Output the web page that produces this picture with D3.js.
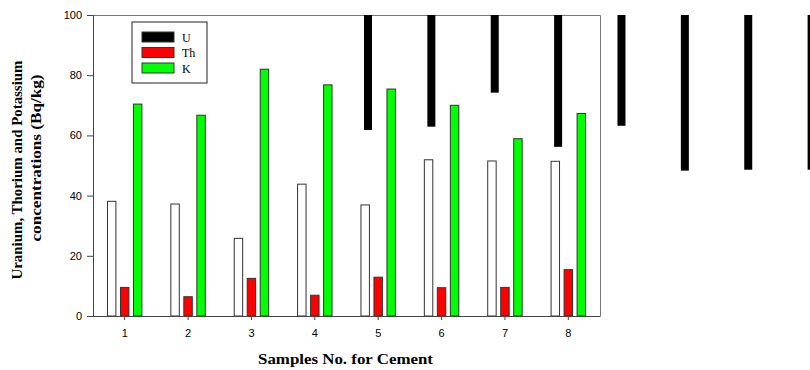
<!DOCTYPE html>
<html>
<head>
<meta charset="utf-8">
<script src="https://cdn.jsdelivr.net/npm/d3@7"></script>
<style>
  body { margin: 0; background: #fff; }
  svg { display: block; }
  .tick text { font-family: "Liberation Sans", Arial, sans-serif; font-size: 11px; fill: #000; }
  .title { font-family: "Liberation Serif", "Times New Roman", serif; font-weight: bold; font-size: 15px; }
  .legend text { font-family: "Liberation Serif", "Times New Roman", serif; font-size: 12px; }
</style>
</head>
<body>
<div id="chart"></div>
<script>
// samples and measured concentrations (Bq/kg)
const samples = [1, 2, 3, 4, 5, 6, 7, 8];
const uranium = [38.1, 37.2, 25.8, 43.8, 36.9, 51.9, 51.5, 51.4];
const thorium = [9.5, 6.4, 12.5, 6.9, 12.9, 9.4, 9.5, 15.4];
const potassium = [70.4, 66.7, 82.0, 76.8, 75.4, 70.0, 58.9, 67.3];
// stray black U bars hanging from the top of the plot (as in the source figure)
const uOverflow = [61.8, 62.9, 74.2, 56.2, 63.2, 48.3, 48.6, 48.6];
const yTicks = [0, 20, 40, 60, 80, 100];

const series = [
  { key: "U", label: "U", values: uranium, fill: "#ffffff", legendFill: "#000000" },
  { key: "Th", label: "Th", values: thorium, fill: "#ff0000", legendFill: "#ff0000" },
  { key: "K", label: "K", values: potassium, fill: "#00ff00", legendFill: "#00ff00" }
];

const width = 810, height = 370;
const margin = { top: 15, right: 210, bottom: 54, left: 93 };
const plotW = width - margin.left - margin.right;
const plotH = height - margin.top - margin.bottom;

const svg = d3.select("#chart").append("svg")
  .attr("width", width)
  .attr("height", height);

const x = d3.scaleBand().domain(samples).range([0, plotW]).padding(0);
const sub = d3.scaleBand().domain(series.map(s => s.key))
  .range([-19.5, 19.5]).paddingInner(0.35).paddingOuter(0.175);
const y = d3.scaleLinear().domain([0, 100]).range([plotH, 0]);
// linear position of a sample centre, so the stray bars can run past the frame
const xc = d3.scaleLinear().domain([1, 8])
  .range([x(1) + x.bandwidth() / 2, x(8) + x.bandwidth() / 2]);

const g = svg.append("g").attr("transform", `translate(${margin.left},${margin.top})`);

// frame top / right
g.append("path")
  .attr("d", `M0,0.5H${plotW + 0.5}V${plotH}`)
  .attr("fill", "none").attr("stroke", "#777").attr("stroke-width", 1);

// bars
series.forEach(s => {
  g.append("g").selectAll("rect")
    .data(s.values.map((v, i) => ({ sample: samples[i], v })))
    .join("rect")
    .attr("x", d => x(d.sample) + x.bandwidth() / 2 + sub(s.key))
    .attr("y", d => y(d.v))
    .attr("width", sub.bandwidth())
    .attr("height", d => y(0) - y(d.v))
    .attr("fill", s.fill)
    .attr("stroke", "#333")
    .attr("stroke-width", 1);
});

// stray black bars
svg.append("g").attr("transform", `translate(${margin.left},${margin.top})`)
  .selectAll("rect")
  .data(uOverflow.map((v, i) => ({ i: i + 1, v })))
  .join("rect")
  .attr("x", d => xc(d.i + 4) - 10.2 - 4)
  .attr("y", y(100))
  .attr("width", 8)
  .attr("height", d => y(d.v) - y(100))
  .attr("fill", "#000");

// axes
const yAxis = g.append("g")
  .call(d3.axisLeft(y).tickValues(yTicks).tickSize(6).tickPadding(5));
yAxis.selectAll("line, path").attr("stroke", "#444");

const xAxis = g.append("g").attr("transform", `translate(0,${plotH})`)
  .call(d3.axisBottom(x).tickSize(4).tickPadding(9).tickSizeOuter(0));
xAxis.select(".domain").attr("d", `M-6,0.5H${plotW + 0.5}`);
xAxis.selectAll("line, path").attr("stroke", "#444");

// legend
const legend = svg.append("g").attr("class", "legend").attr("transform", "translate(132,22)");
legend.append("rect")
  .attr("x", 0).attr("y", 0).attr("width", 75).attr("height", 61)
  .attr("fill", "#fff").attr("stroke", "#222").attr("stroke-width", 1);
series.forEach((s, i) => {
  const row = legend.append("g").attr("transform", `translate(10,${10 + i * 15.5})`);
  row.append("rect").attr("width", 32).attr("height", 10)
    .attr("fill", s.legendFill).attr("stroke", "#333").attr("stroke-width", 1);
  row.append("text").attr("x", 40).attr("y", 9.5).text(s.label);
});

// axis titles
svg.append("text").attr("class", "title")
  .attr("transform", "translate(22,170) rotate(-90)")
  .attr("text-anchor", "middle")
  .attr("textLength", 219).attr("lengthAdjust", "spacingAndGlyphs")
  .text("Uranium, Thorium and Potassium");
svg.append("text").attr("class", "title")
  .attr("transform", "translate(41,158) rotate(-90)")
  .attr("text-anchor", "middle")
  .attr("textLength", 167).attr("lengthAdjust", "spacingAndGlyphs")
  .text("concentrations  (Bq/kg)");
svg.append("text").attr("class", "title")
  .attr("x", 345.5).attr("y", 364)
  .attr("text-anchor", "middle")
  .attr("textLength", 175).attr("lengthAdjust", "spacingAndGlyphs")
  .text("Samples No. for Cement");
</script>
</body>
</html>
